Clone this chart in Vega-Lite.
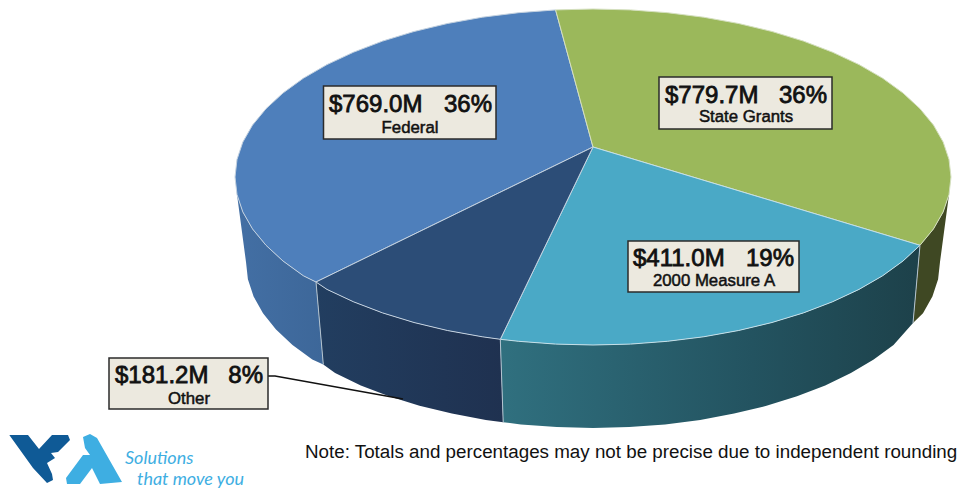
{"$schema":"https://vega.github.io/schema/vega-lite/v6.json","width":959,"height":489,"padding":0,"autosize":{"type":"none"},"background":"white","view":{"stroke":null},
"datasets":{
"shapes":[
{"s":"wF","x":316,"y":282},{"s":"wF","x":303.4,"y":275.8},{"s":"wF","x":283,"y":261},{"s":"wF","x":266,"y":245.3},{"s":"wF","x":252.5,"y":228.9},{"s":"wF","x":242.8,"y":211.9},{"s":"wF","x":237,"y":194.6},{"s":"wF","x":246,"y":262},{"s":"wF","x":247.9,"y":279.3},{"s":"wF","x":253.6,"y":296.5},{"s":"wF","x":263,"y":313.3},{"s":"wF","x":276,"y":329.5},{"s":"wF","x":292.5,"y":345},{"s":"wF","x":312.3,"y":359.6},{"s":"wF","x":323.3,"y":364.5},{"s":"wF","x":316,"y":282},
{"s":"wO","x":316,"y":282},{"s":"wO","x":327,"y":289.4},{"s":"wO","x":353.5,"y":301.8},{"s":"wO","x":382.6,"y":312.9},{"s":"wO","x":414,"y":322.5},{"s":"wO","x":447.4,"y":330.5},{"s":"wO","x":482.4,"y":336.8},{"s":"wO","x":500.3,"y":339.3},{"s":"wO","x":503.2,"y":422.3},{"s":"wO","x":485.8,"y":419.9},{"s":"wO","x":451.9,"y":413.6},{"s":"wO","x":419.5,"y":405.8},{"s":"wO","x":389,"y":396.3},{"s":"wO","x":360.8,"y":385.4},{"s":"wO","x":335.1,"y":373.1},{"s":"wO","x":323.3,"y":364.5},{"s":"wO","x":316,"y":282},
{"s":"wM","x":500.3,"y":339.3},{"s":"wM","x":518.6,"y":341.3},{"s":"wM","x":555.6,"y":344.1},{"s":"wM","x":593,"y":345},{"s":"wM","x":630.4,"y":344.1},{"s":"wM","x":667.4,"y":341.3},{"s":"wM","x":703.6,"y":336.8},{"s":"wM","x":738.6,"y":330.5},{"s":"wM","x":772,"y":322.5},{"s":"wM","x":803.4,"y":312.9},{"s":"wM","x":832.5,"y":301.8},{"s":"wM","x":859,"y":289.4},{"s":"wM","x":882.6,"y":275.8},{"s":"wM","x":903,"y":261},{"s":"wM","x":920,"y":245.3},{"s":"wM","x":913,"y":323},{"s":"wM","x":893.5,"y":345},{"s":"wM","x":873.7,"y":359.6},{"s":"wM","x":850.9,"y":373.1},{"s":"wM","x":825.2,"y":385.4},{"s":"wM","x":797,"y":396.3},{"s":"wM","x":766.5,"y":405.8},{"s":"wM","x":734.1,"y":413.6},{"s":"wM","x":700.2,"y":419.9},{"s":"wM","x":665.1,"y":424.4},{"s":"wM","x":629.3,"y":427.1},{"s":"wM","x":593,"y":428},{"s":"wM","x":556.7,"y":427.1},{"s":"wM","x":520.9,"y":424.4},{"s":"wM","x":503.2,"y":422.3},{"s":"wM","x":500.3,"y":339.3},
{"s":"wS","x":920,"y":245.3},{"s":"wS","x":933.5,"y":228.9},{"s":"wS","x":943.2,"y":211.9},{"s":"wS","x":949,"y":194.6},{"s":"wS","x":940,"y":262},{"s":"wS","x":938.1,"y":279.3},{"s":"wS","x":932.4,"y":296.5},{"s":"wS","x":923,"y":313.3},{"s":"wS","x":913,"y":323},{"s":"wS","x":920,"y":245.3},
{"s":"tF","x":593,"y":147},{"s":"tF","x":316,"y":282},{"s":"tF","x":303.4,"y":275.8},{"s":"tF","x":283,"y":261},{"s":"tF","x":266,"y":245.3},{"s":"tF","x":252.5,"y":228.9},{"s":"tF","x":242.8,"y":211.9},{"s":"tF","x":237,"y":194.6},{"s":"tF","x":235,"y":177},{"s":"tF","x":237,"y":159.4},{"s":"tF","x":242.8,"y":142.1},{"s":"tF","x":252.5,"y":125.1},{"s":"tF","x":266,"y":108.7},{"s":"tF","x":283,"y":93},{"s":"tF","x":303.4,"y":78.2},{"s":"tF","x":327,"y":64.6},{"s":"tF","x":353.5,"y":52.2},{"s":"tF","x":382.6,"y":41.1},{"s":"tF","x":414,"y":31.5},{"s":"tF","x":447.4,"y":23.5},{"s":"tF","x":482.4,"y":17.2},{"s":"tF","x":518.6,"y":12.7},{"s":"tF","x":555.6,"y":9.9},{"s":"tF","x":593,"y":147},
{"s":"tS","x":593,"y":147},{"s":"tS","x":555.6,"y":9.9},{"s":"tS","x":593,"y":9},{"s":"tS","x":630.4,"y":9.9},{"s":"tS","x":667.4,"y":12.7},{"s":"tS","x":703.6,"y":17.2},{"s":"tS","x":738.6,"y":23.5},{"s":"tS","x":772,"y":31.5},{"s":"tS","x":803.4,"y":41.1},{"s":"tS","x":832.5,"y":52.2},{"s":"tS","x":859,"y":64.6},{"s":"tS","x":882.6,"y":78.2},{"s":"tS","x":903,"y":93},{"s":"tS","x":920,"y":108.7},{"s":"tS","x":933.5,"y":125.1},{"s":"tS","x":943.2,"y":142.1},{"s":"tS","x":949,"y":159.4},{"s":"tS","x":951,"y":177},{"s":"tS","x":949,"y":194.6},{"s":"tS","x":943.2,"y":211.9},{"s":"tS","x":933.5,"y":228.9},{"s":"tS","x":920,"y":245.3},{"s":"tS","x":593,"y":147},
{"s":"tM","x":593,"y":147},{"s":"tM","x":920,"y":245.3},{"s":"tM","x":903,"y":261},{"s":"tM","x":882.6,"y":275.8},{"s":"tM","x":859,"y":289.4},{"s":"tM","x":832.5,"y":301.8},{"s":"tM","x":803.4,"y":312.9},{"s":"tM","x":772,"y":322.5},{"s":"tM","x":738.6,"y":330.5},{"s":"tM","x":703.6,"y":336.8},{"s":"tM","x":667.4,"y":341.3},{"s":"tM","x":630.4,"y":344.1},{"s":"tM","x":593,"y":345},{"s":"tM","x":555.6,"y":344.1},{"s":"tM","x":518.6,"y":341.3},{"s":"tM","x":500.3,"y":339.3},{"s":"tM","x":593,"y":147},
{"s":"tO","x":593,"y":147},{"s":"tO","x":500.3,"y":339.3},{"s":"tO","x":482.4,"y":336.8},{"s":"tO","x":447.4,"y":330.5},{"s":"tO","x":414,"y":322.5},{"s":"tO","x":382.6,"y":312.9},{"s":"tO","x":353.5,"y":301.8},{"s":"tO","x":327,"y":289.4},{"s":"tO","x":316,"y":282},{"s":"tO","x":593,"y":147},
{"s":"e1","x":316,"y":282},{"s":"e1","x":323.3,"y":364.5},
{"s":"e2","x":500.3,"y":339.3},{"s":"e2","x":503.2,"y":422.3},
{"s":"e3","x":920,"y":245.3},{"s":"e3","x":913,"y":323},
{"s":"c","x":268,"y":376},{"s":"c","x":275,"y":376},{"s":"c","x":403,"y":399},
{"s":"ld","x":9.3,"y":435},{"s":"ld","x":28,"y":435},{"s":"ld","x":39,"y":449},{"s":"ld","x":52,"y":435},{"s":"ld","x":68,"y":435},{"s":"ld","x":70,"y":440},{"s":"ld","x":58,"y":452},{"s":"ld","x":51,"y":453},{"s":"ld","x":55,"y":458},{"s":"ld","x":47,"y":463},{"s":"ld","x":52,"y":474},{"s":"ld","x":53,"y":480},{"s":"ld","x":47,"y":483},{"s":"ld","x":33,"y":468},{"s":"ld","x":9.3,"y":435},
{"s":"ll","x":83,"y":437},{"s":"ll","x":90,"y":434},{"s":"ll","x":97,"y":438},{"s":"ll","x":122,"y":482},{"s":"ll","x":100,"y":484},{"s":"ll","x":92,"y":468},{"s":"ll","x":80,"y":484},{"s":"ll","x":67,"y":484},{"s":"ll","x":66,"y":478},{"s":"ll","x":83,"y":455},{"s":"ll","x":90,"y":455},{"s":"ll","x":85,"y":448},{"s":"ll","x":83,"y":437}
],
"boxes":[{"name":"Federal","x":323.5,"x2":496,"y":86,"y2":139},{"name":"State Grants","x":659,"x2":832,"y":77,"y2":129},{"name":"2000 Measure A","x":628,"x2":799,"y":241,"y2":292},{"name":"Other","x":109,"x2":268,"y":358,"y2":409}],
"labels":[
{"k":"l","t":"$769.0M","x":329,"y":112},{"k":"r","t":"36%","x":492,"y":112},{"k":"c","t":"Federal","x":410,"y":133},
{"k":"l","t":"$779.7M","x":665,"y":103},{"k":"r","t":"36%","x":827,"y":103},{"k":"c","t":"State Grants","x":746,"y":122},
{"k":"l","t":"$411.0M","x":633,"y":266},{"k":"r","t":"19%","x":794,"y":266},{"k":"c","t":"2000 Measure A","x":714,"y":286},
{"k":"l","t":"$181.2M","x":115,"y":383},{"k":"r","t":"8%","x":263,"y":383},{"k":"c","t":"Other","x":189,"y":404}
],
"misc":[{"k":"note","t":"Note: Totals and percentages may not be precise due to independent rounding","x":305,"y":458},{"k":"logo","t":"Solutions","x":125,"y":464},{"k":"logo","t":"that move you","x":137,"y":485}]
},
"encoding":{"x":{"field":"x","type":"quantitative","scale":{"domain":[0,959],"range":[0,959]},"axis":null},"y":{"field":"y","type":"quantitative","scale":{"domain":[489,0],"range":[489,0]},"axis":null}},
"layer":[
{"data":{"name":"shapes"},"transform":[{"filter":"datum.s=='wF'"}],"mark":{"type":"line","order":false,"strokeWidth":0,"fill":{"gradient":"linear","x1":0,"x2":1,"y1":0,"y2":0,"stops":[{"offset":0,"color":"#436fa4"},{"offset":1,"color":"#3d6799"}]}}},
{"data":{"name":"shapes"},"transform":[{"filter":"datum.s=='wO'"}],"mark":{"type":"line","order":false,"strokeWidth":0,"fill":{"gradient":"linear","x1":0,"x2":1,"y1":0,"y2":0,"stops":[{"offset":0,"color":"#223e60"},{"offset":1,"color":"#1f3150"}]}}},
{"data":{"name":"shapes"},"transform":[{"filter":"datum.s=='wM'"}],"mark":{"type":"line","order":false,"strokeWidth":0,"fill":{"gradient":"linear","x1":0,"x2":1,"y1":0,"y2":0,"stops":[{"offset":0,"color":"#30707f"},{"offset":0.6,"color":"#235360"},{"offset":1,"color":"#1d414a"}]}}},
{"data":{"name":"shapes"},"transform":[{"filter":"datum.s=='wS'"}],"mark":{"type":"line","order":false,"strokeWidth":0,"fill":"#3f4823"}},
{"data":{"name":"shapes"},"transform":[{"filter":"datum.s=='tF'"}],"mark":{"type":"line","order":false,"strokeWidth":1,"stroke":"#c4d2e0","fill":"#4e7fbb"}},
{"data":{"name":"shapes"},"transform":[{"filter":"datum.s=='tS'"}],"mark":{"type":"line","order":false,"strokeWidth":1,"stroke":"#d5e0c0","fill":"#9bb85b"}},
{"data":{"name":"shapes"},"transform":[{"filter":"datum.s=='tM'"}],"mark":{"type":"line","order":false,"strokeWidth":1,"stroke":"#c4dfe8","fill":"#4aa9c6"}},
{"data":{"name":"shapes"},"transform":[{"filter":"datum.s=='tO'"}],"mark":{"type":"line","order":false,"strokeWidth":1,"stroke":"#c4d2e0","fill":"#2c4d77"}},
{"data":{"name":"shapes"},"transform":[{"filter":"datum.s=='e1'||datum.s=='e2'||datum.s=='e3'"}],"mark":{"type":"line","order":false,"strokeWidth":1,"stroke":"#b4c4d0"},"encoding":{"detail":{"field":"s"}}},
{"data":{"name":"shapes"},"transform":[{"filter":"datum.s=='c'"}],"mark":{"type":"line","order":false,"strokeWidth":1.3,"stroke":"#111111"}},
{"data":{"name":"shapes"},"transform":[{"filter":"datum.s=='ld'"}],"mark":{"type":"line","order":false,"strokeWidth":0,"fill":"#0f5a96"}},
{"data":{"name":"shapes"},"transform":[{"filter":"datum.s=='ll'"}],"mark":{"type":"line","order":false,"strokeWidth":0,"fill":"#3eaee2"}},
{"data":{"name":"boxes"},"mark":{"type":"rect","fill":"#ece9df","stroke":"#2b2b2b","strokeWidth":1.5},"encoding":{"x2":{"field":"x2"},"y2":{"field":"y2"}}},
{"data":{"name":"labels"},"transform":[{"filter":"datum.k=='l'"}],"mark":{"type":"text","align":"left","baseline":"alphabetic","font":"Liberation Sans","fontSize":24,"fill":"#111111","stroke":"#111111","strokeWidth":0.8},"encoding":{"text":{"field":"t"}}},
{"data":{"name":"labels"},"transform":[{"filter":"datum.k=='r'"}],"mark":{"type":"text","align":"right","baseline":"alphabetic","font":"Liberation Sans","fontSize":24,"fill":"#111111","stroke":"#111111","strokeWidth":0.8},"encoding":{"text":{"field":"t"}}},
{"data":{"name":"labels"},"transform":[{"filter":"datum.k=='c'"}],"mark":{"type":"text","align":"center","baseline":"alphabetic","font":"Liberation Sans","fontSize":16.8,"fill":"#111111","stroke":"#111111","strokeWidth":0.5},"encoding":{"text":{"field":"t"}}},
{"data":{"name":"misc"},"transform":[{"filter":"datum.k=='note'"}],"mark":{"type":"text","align":"left","baseline":"alphabetic","font":"Liberation Sans","fontSize":18.8,"fill":"#111111"},"encoding":{"text":{"field":"t"}}},
{"data":{"name":"misc"},"transform":[{"filter":"datum.k=='logo'"}],"mark":{"type":"text","align":"left","baseline":"alphabetic","font":"Lato","fontStyle":"italic","fontSize":18,"fill":"#3eaee2"},"encoding":{"text":{"field":"t"}}}
]}
